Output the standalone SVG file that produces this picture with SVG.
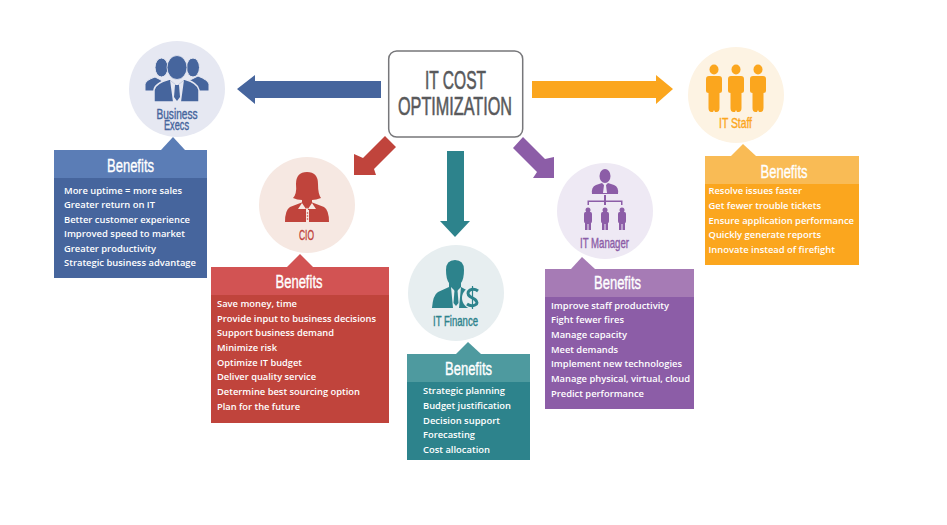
<svg xmlns="http://www.w3.org/2000/svg" xmlns:xlink="http://www.w3.org/1999/xlink" width="947" height="525" viewBox="0 0 947 525">
<style>
.h{font-family:"Liberation Sans",Arial,sans-serif;font-size:18px;fill:#fff;stroke:#fff;stroke-width:.35px;text-anchor:middle}
.l{font-family:"Liberation Sans",Arial,sans-serif;font-size:14.5px;stroke-width:.4px;text-anchor:middle}
.b{font-family:"Open Sans",sans-serif;font-size:9.5px;font-weight:600;fill:#fff}
.t{font-family:"Liberation Sans",Arial,sans-serif;font-size:26px;fill:#58595b;stroke:#58595b;stroke-width:.6px;text-anchor:middle}
</style>
<defs>
<path id="staff" d="M-5-7H5Q8-7 8-4V8Q8 10 5.500 10V25Q5.500 29 2.500 29H1L0 27L-1 29H-2.500Q-5.500 29-5.500 25V10Q-8 10-8 8V-4Q-8-7-5-7Z"/>
<path id="mgr" d="M-2.500 2H2.500Q4 2 4 4V11Q4 13 3 13V20H.5V14H-.5V20H-3V13Q-4 13-4 11V4Q-4 2-2.500 2Z"/>
</defs>
<rect width="947" height="525" fill="#fff"/>
<g id="connectors">
<polygon points="381,81 255,81 255,75 237,89 255,104 255,98 381,98" fill="#46659d"/>
<polygon points="532,81 656,81 656,75 673,89 656,104 656,98 532,98" fill="#fba61e"/>
<polygon points="447,151 464,151 464,221 470,221 455,237 440,221 447,221" fill="#2d838c"/>
<polygon points="385,136 396,147 374,169 376,175 354,175 354,154 363,158" fill="#c0443c"/>
<polygon points="523,137 513,148 537,172 533,178 554,178 554,157 545,159" fill="#8c5da7"/>
</g>
<g id="root">
<rect x="388.700" y="51" width="134" height="86" rx="8" fill="#fff" stroke="#77777a" stroke-width="1.500"/>
<text class="t" x="455.500" y="89" textLength="61" lengthAdjust="spacingAndGlyphs">IT COST</text>
<text class="t" x="455" y="115" textLength="114" lengthAdjust="spacingAndGlyphs">OPTIMIZATION</text>
</g>
<g id="business">
<circle cx="177" cy="89" r="48" fill="#e6e8f2"/>
<g fill="#46659d" stroke="#e6e8f2" stroke-width="1">
<ellipse cx="161.500" cy="67.500" rx="6.500" ry="9.500"/>
<ellipse cx="193" cy="67.500" rx="6.500" ry="9.500"/>
<path d="M145 91V84Q146 80 155 77L161 80L168 91Z"/>
<path d="M209 91V84Q208 80 198 76L190 80L186 91Z"/>
</g>
<path d="M154 102V90Q155 83 170 79L177 85L184 79Q198 83 199 90V102Z" fill="#46659d" stroke="#e6e8f2" stroke-width="1.500"/>
<ellipse cx="177" cy="67.500" rx="10" ry="12" fill="#46659d" stroke="#e6e8f2" stroke-width=".8"/>
<path d="M170 80L177 86L184 80L181 102H173Z" fill="#e6e8f2"/>
<path d="M175 85H179L180 97L177 101L174 97Z" fill="#46659d"/>
<text class="l" x="177" y="119" fill="#46659d" stroke="#46659d" textLength="41" lengthAdjust="spacingAndGlyphs">Business</text>
<text class="l" x="176.500" y="130" fill="#46659d" stroke="#46659d" textLength="25" lengthAdjust="spacingAndGlyphs">Execs</text>
<polygon points="173,137 161,150 185,150" fill="#5b7db6"/>
<rect x="54" y="150" width="153" height="128" fill="#46659d"/>
<rect x="54" y="150" width="153" height="28" fill="#5b7db6"/>
<text class="h" x="130.500" y="171.500" textLength="47" lengthAdjust="spacingAndGlyphs">Benefits</text>
<text class="b" x="64" y="193.500" textLength="118" lengthAdjust="spacingAndGlyphs">More uptime = more sales</text>
<text class="b" x="64" y="208" textLength="91" lengthAdjust="spacingAndGlyphs">Greater return on IT</text>
<text class="b" x="64" y="222.500" textLength="126" lengthAdjust="spacingAndGlyphs">Better customer experience</text>
<text class="b" x="64" y="237" textLength="121" lengthAdjust="spacingAndGlyphs">Improved speed to market</text>
<text class="b" x="64" y="251.500" textLength="92" lengthAdjust="spacingAndGlyphs">Greater productivity</text>
<text class="b" x="64" y="266" textLength="132" lengthAdjust="spacingAndGlyphs">Strategic business advantage</text>
</g>
<g id="cio">
<circle cx="307" cy="205" r="48" fill="#f6e8e2"/>
<path d="M293 198Q297 194 296 184Q296 172 307 172Q318 172 318 184Q318 194 321 198Q316 200 312 200V203L307 208L302 203V200Q297 200 293 198Z" fill="#c0443c"/>
<path d="M285 222Q285 210 290 207L303 202L308 209V222ZM329 222Q329 210 324 207L311 202L306 209V222Z" fill="#c0443c"/>
<path d="M298 209H306L302 203ZM308 209H316L312 203Z" fill="#f6e8e2"/>
<rect x="306" y="210" width="3" height="12" fill="#f6e8e2"/>
<circle cx="307.500" cy="213" r=".8" fill="#c0443c"/><circle cx="307.500" cy="216" r=".8" fill="#c0443c"/><circle cx="307.500" cy="219" r=".8" fill="#c0443c"/>
<text class="l" x="306.500" y="240" fill="#c0443c" stroke="#c0443c" textLength="15" lengthAdjust="spacingAndGlyphs">CIO</text>
<polygon points="300,254 287,267 313,267" fill="#d25353"/>
<rect x="211" y="267" width="178" height="156" fill="#c0443c"/>
<rect x="211" y="267" width="178" height="28" fill="#d25353"/>
<text class="h" x="299" y="288" textLength="47" lengthAdjust="spacingAndGlyphs">Benefits</text>
<text class="b" x="217" y="307" textLength="80" lengthAdjust="spacingAndGlyphs">Save money, time</text>
<text class="b" x="217" y="322" textLength="159" lengthAdjust="spacingAndGlyphs">Provide input to business decisions</text>
<text class="b" x="217" y="336" textLength="117" lengthAdjust="spacingAndGlyphs">Support business demand</text>
<text class="b" x="217" y="351" textLength="60" lengthAdjust="spacingAndGlyphs">Minimize risk</text>
<text class="b" x="217" y="366" textLength="85" lengthAdjust="spacingAndGlyphs">Optimize IT budget</text>
<text class="b" x="217" y="380" textLength="99" lengthAdjust="spacingAndGlyphs">Deliver quality service</text>
<text class="b" x="217" y="395" textLength="143" lengthAdjust="spacingAndGlyphs">Determine best sourcing option</text>
<text class="b" x="217" y="410" textLength="83" lengthAdjust="spacingAndGlyphs">Plan for the future</text>
</g>
<g id="finance">
<circle cx="456" cy="293" r="48" fill="#e7eef0"/>
<path d="M446 270Q446 260 455 260Q464 260 464 270Q464 279 461 283V287L470 292V308H432Q433 295 438 292L449 287V283Q446 279 446 270Z" fill="#2d838c"/>
<path d="M451 287L456 292L461 287L459 308H453Z" fill="#e7eef0"/>
<path d="M454.500 290H457.500L458.500 303L456 306L453.500 303Z" fill="#2d838c"/>
<circle cx="473" cy="298" r="11" fill="#e7eef0"/>
<path d="M478 291Q474 288 470 290Q466 293 470 296.500L475 299.500Q479 303 475 305Q471 307 467 304" fill="none" stroke="#2d838c" stroke-width="3"/>
<path d="M472.500 286V309" stroke="#2d838c" stroke-width="1.200"/>
<text class="l" x="455.500" y="326" fill="#2d838c" stroke="#2d838c" textLength="45" lengthAdjust="spacingAndGlyphs">IT Finance</text>
<polygon points="468,342 456,354 481,354" fill="#4e9a9f"/>
<rect x="407" y="354" width="123" height="106" fill="#2d838c"/>
<rect x="407" y="354" width="123" height="28" fill="#4e9a9f"/>
<text class="h" x="468.500" y="375" textLength="47" lengthAdjust="spacingAndGlyphs">Benefits</text>
<text class="b" x="423" y="394" textLength="82" lengthAdjust="spacingAndGlyphs">Strategic planning</text>
<text class="b" x="423" y="409" textLength="88" lengthAdjust="spacingAndGlyphs">Budget justification</text>
<text class="b" x="423" y="424" textLength="77" lengthAdjust="spacingAndGlyphs">Decision support</text>
<text class="b" x="423" y="438" textLength="52" lengthAdjust="spacingAndGlyphs">Forecasting</text>
<text class="b" x="423" y="453" textLength="67" lengthAdjust="spacingAndGlyphs">Cost allocation</text>
</g>
<g id="manager">
<circle cx="605" cy="211" r="48" fill="#eee9f4"/>
<g fill="#8c5da7">
<ellipse cx="605" cy="176" rx="5.500" ry="7"/>
<path d="M592 194Q591 187 596 185L602 183L605 186L608 183L614 185Q619 187 618 194Z"/>
<path d="M604 195H606V200.500H622.500V205H621V202H606V205H604V202H589V205H587.500V200.500H604Z"/>
<circle cx="588" cy="210" r="2.500"/><circle cx="605" cy="210" r="2.500"/><circle cx="622" cy="210" r="2.500"/>
<use xlink:href="#mgr" href="#mgr" x="588" y="210"/><use xlink:href="#mgr" href="#mgr" x="605" y="210"/><use xlink:href="#mgr" href="#mgr" x="622" y="210"/>
</g>
<path d="M604 185H606L607 193H603Z" fill="#eee9f4"/>
<text class="l" x="604.500" y="248" fill="#8c5da7" stroke="#8c5da7" textLength="49" lengthAdjust="spacingAndGlyphs">IT Manager</text>
<polygon points="582,257 571,269 595,269" fill="#a67bb5"/>
<rect x="545" y="269" width="149" height="140" fill="#8c5da7"/>
<rect x="545" y="269" width="149" height="28" fill="#a67bb5"/>
<text class="h" x="617.500" y="289" textLength="47" lengthAdjust="spacingAndGlyphs">Benefits</text>
<text class="b" x="551" y="309" textLength="118" lengthAdjust="spacingAndGlyphs">Improve staff productivity</text>
<text class="b" x="551" y="323" textLength="73" lengthAdjust="spacingAndGlyphs">Fight fewer fires</text>
<text class="b" x="551" y="338" textLength="76" lengthAdjust="spacingAndGlyphs">Manage capacity</text>
<text class="b" x="551" y="352.500" textLength="67" lengthAdjust="spacingAndGlyphs">Meet demands</text>
<text class="b" x="551" y="367" textLength="131" lengthAdjust="spacingAndGlyphs">Implement new technologies</text>
<text class="b" x="551" y="382" textLength="139" lengthAdjust="spacingAndGlyphs">Manage physical, virtual, cloud</text>
<text class="b" x="551" y="397" textLength="93" lengthAdjust="spacingAndGlyphs">Predict performance</text>
</g>
<g id="staff-node">
<circle cx="736" cy="95" r="48" fill="#fdf3e3"/>
<g fill="#fba61e">
<ellipse cx="714" cy="69.500" rx="4.500" ry="5"/><ellipse cx="736" cy="69.500" rx="4.500" ry="5"/><ellipse cx="758" cy="69.500" rx="4.500" ry="5"/>
<use xlink:href="#staff" href="#staff" x="714" y="83"/><use xlink:href="#staff" href="#staff" x="736" y="83"/><use xlink:href="#staff" href="#staff" x="758" y="83"/>
</g>
<text class="l" x="735.500" y="128" fill="#fba61e" stroke="#fba61e" textLength="33" lengthAdjust="spacingAndGlyphs">IT Staff</text>
<polygon points="743,144 731,156 756,156" fill="#f9bb55"/>
<rect x="705" y="156" width="154" height="109" fill="#fba61e"/>
<rect x="705" y="156" width="154" height="28" fill="#f9bb55"/>
<text class="h" x="784" y="178" textLength="47" lengthAdjust="spacingAndGlyphs">Benefits</text>
<text class="b" x="708.500" y="194" textLength="93.500" lengthAdjust="spacingAndGlyphs">Resolve issues faster</text>
<text class="b" x="708.500" y="209" textLength="112.500" lengthAdjust="spacingAndGlyphs">Get fewer trouble tickets</text>
<text class="b" x="708.500" y="223.500" textLength="145.500" lengthAdjust="spacingAndGlyphs">Ensure application performance</text>
<text class="b" x="708.500" y="238" textLength="112.500" lengthAdjust="spacingAndGlyphs">Quickly generate reports</text>
<text class="b" x="708.500" y="253" textLength="126.500" lengthAdjust="spacingAndGlyphs">Innovate instead of firefight</text>
</g>
</svg>
